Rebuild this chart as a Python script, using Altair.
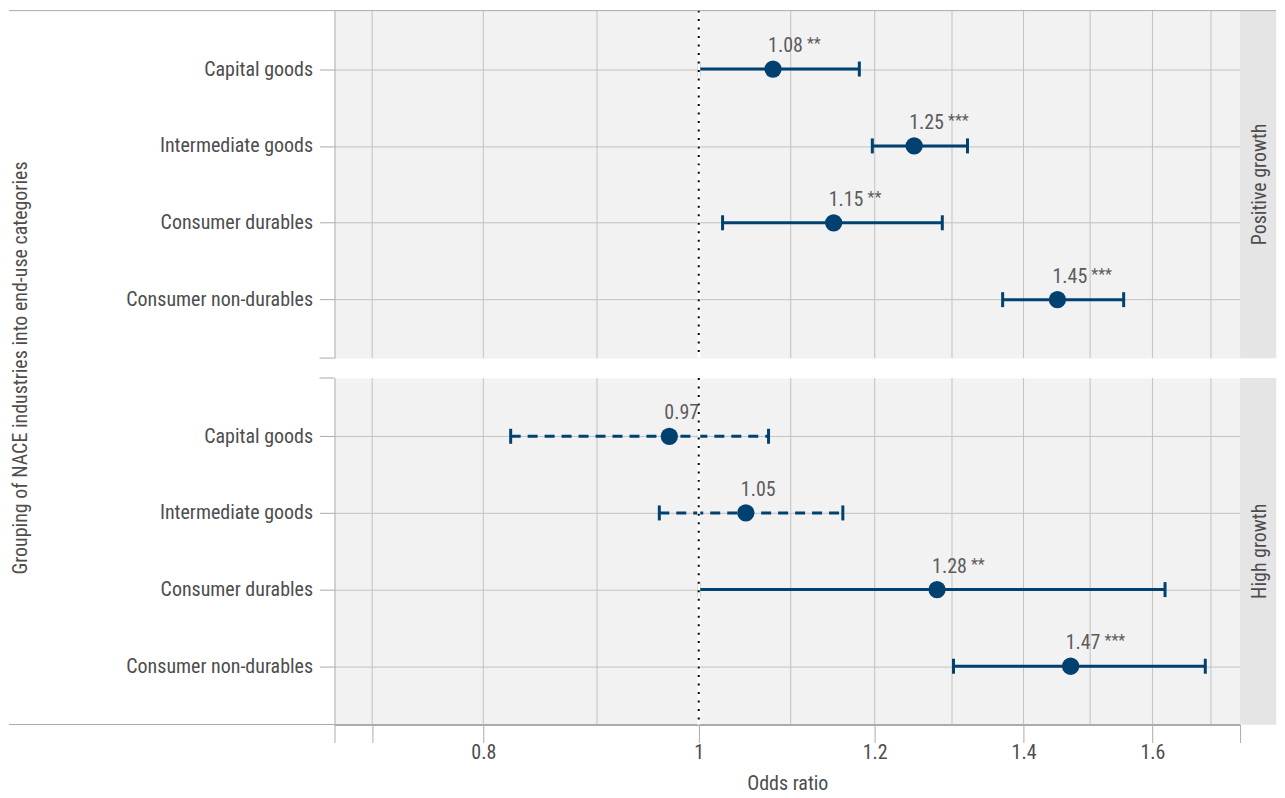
import altair as alt
import pandas as pd

FONT = "Liberation Sans Narrow, Roboto Condensed, Arial Narrow, DejaVu Sans Condensed, Roboto, sans-serif"

# ---------------- data ----------------
categories = ["Capital goods", "Intermediate goods", "Consumer durables", "Consumer non-durables"]
panel_names = ["Positive growth", "High growth"]

pos_or = [1.08, 1.25, 1.15, 1.45]
pos_lo = [1.00, 1.197, 1.025, 1.370]
pos_hi = [1.181, 1.321, 1.287, 1.553]
pos_stars = ["**", "***", "**", "***"]

high_or = [0.97, 1.05, 1.28, 1.47]
high_lo = [0.823, 0.960, 1.00, 1.302]
high_hi = [1.075, 1.161, 1.621, 1.690]
high_stars = ["", "", "**", "***"]

major_ticks = [0.8, 1.0, 1.2, 1.4, 1.6]
tick_labels = ["0.8", "1", "1.2", "1.4", "1.6"]
minor_grid = [0.713, 0.9, 1.1, 1.3, 1.5, 1.7]
x_domain = [0.6857, 1.752]
extra_ticks = [0.6857, 0.713, 1.752]
reference_value = [1.0]

# ---------------- styling ----------------
W, H_TOP, H_BOT, STRIP_W, GAP = 907, 348, 347, 36, 20
LEFT = 326
FS = 20
BLUE = "#00416f"
GRID = "#c2c2c2"
AXIS = "#ababab"
TXT = "#4d4d4d"
LBL = "#5c5c5c"
PANEL_BG = "#f2f2f2"
STRIP_BG = "#e5e5e5"

xs = alt.Scale(type="log", domain=x_domain, nice=False)
ys = alt.Scale(type="point", domain=categories, padding=0.76)

label_expr = " : ".join(
    [f"abs(datum.value - {v}) < 0.001 ? '{t}'" for v, t in zip(major_ticks, tick_labels)]
) + " : ''"


def x_axis(bottom):
    if not bottom:
        return None
    return alt.Axis(
        values=sorted(extra_ticks[:2] + major_ticks + extra_ticks[2:]),
        labelExpr=label_expr,
        grid=False,
        tickSize=18,
        tickColor=AXIS,
        tickWidth=1,
        domainColor=AXIS,
        domainWidth=2,
        labelFontSize=FS,
        labelColor=TXT,
        labelPadding=0,
        labelOverlap=False,
        labelFlush=False,
        title="Odds ratio",
        titleFontSize=FS,
        titleFontWeight="normal",
        titleColor=TXT,
        titlePadding=11,
    )


def y_axis(top):
    kw = dict(
        grid=True,
        gridColor=GRID,
        gridWidth=1,
        domain=True,
        domainColor=AXIS,
        domainWidth=1,
        tickSize=15,
        tickColor=AXIS,
        labelFontSize=FS,
        labelColor=TXT,
        labelPadding=7,
        labelLimit=0,
    )
    if top:
        kw.update(
            title="Grouping of NACE industries into end-use categories",
            titleFontSize=FS,
            titleFontWeight="normal",
            titleColor=TXT,
            titleAngle=270,
            titleAlign="center",
            titleBaseline="middle",
            titleX=-(LEFT - 12),
            titleY=(H_TOP + GAP + H_BOT) / 2,
        )
    return alt.Axis(**kw)


def panel(odds, lo, hi, stars, height, top, bottom):
    df = pd.DataFrame({
        "cat": categories,
        "or": odds,
        "lo": lo,
        "hi": hi,
        "stars": stars,
        "label": [f"{v:.2f}" for v in odds],
    })
    df["sig"] = df["stars"] != ""
    xa = x_axis(bottom)
    ya = y_axis(top)
    X = lambda f: alt.X(f, scale=xs, axis=xa, title="Odds ratio" if bottom else None)
    Y = alt.Y("cat:N", scale=ys, axis=ya, sort=categories,
              title="Grouping of NACE industries into end-use categories" if top else None)

    one = pd.DataFrame({"d": [0]})
    layers = []
    grid = alt.Chart(pd.DataFrame({"g": major_ticks + minor_grid})).mark_rule(
        color=GRID, strokeWidth=1
    ).encode(x=X("g:Q"))
    layers.append(grid)

    base = alt.Chart(df)
    solid = base.transform_filter("datum.sig").mark_rule(color=BLUE, strokeWidth=3).encode(
        x=X("lo:Q"), x2="hi:Q", y=Y)
    dashed = base.transform_filter("!datum.sig").mark_rule(
        color=BLUE, strokeWidth=3, strokeDash=[10, 7]).encode(x=X("lo:Q"), x2="hi:Q", y=Y)
    cap_lo = base.mark_tick(color=BLUE, thickness=3, size=15, opacity=1).encode(x=X("lo:Q"), y=Y)
    cap_hi = base.mark_tick(color=BLUE, thickness=3, size=15, opacity=1).encode(x=X("hi:Q"), y=Y)
    pts = base.mark_circle(color=BLUE, size=300, opacity=1).encode(x=X("or:Q"), y=Y)
    layers += [solid, dashed, cap_lo, cap_hi, pts]

    ref = pd.DataFrame({"r": reference_value})
    layers.append(alt.Chart(ref).mark_rule(color="white", strokeWidth=3).encode(x=X("r:Q")))
    layers.append(alt.Chart(ref).mark_rule(color="black", strokeWidth=2, strokeDash=[2, 6.5]).encode(x=X("r:Q")))

    num = base.mark_text(align="left", baseline="alphabetic", dx=-5, dy=-17,
                         fontSize=FS, color=LBL).encode(x=X("or:Q"), y=Y, text="label:N")
    st = base.mark_text(align="left", baseline="alphabetic", dx=34, dy=-20,
                        fontSize=16, color=LBL).encode(x=X("or:Q"), y=Y, text="stars:N")
    layers += [num, st]

    # decorations: outer lines and panel-end ticks
    if top:
        layers.append(alt.Chart(one).mark_rule(color=AXIS, strokeWidth=1).encode(
            x=alt.value(-LEFT), x2=alt.value(W), y=alt.value(0)))
        layers.append(alt.Chart(one).mark_rule(color=AXIS, strokeWidth=1).encode(
            x=alt.value(-15), x2=alt.value(0), y=alt.value(height)))
    if bottom:
        layers.append(alt.Chart(one).mark_rule(color=AXIS, strokeWidth=1).encode(
            x=alt.value(-LEFT), x2=alt.value(0), y=alt.value(height)))
        layers.append(alt.Chart(one).mark_rule(color=AXIS, strokeWidth=1).encode(
            x=alt.value(-15), x2=alt.value(0), y=alt.value(0)))

    return alt.layer(*layers).properties(width=W, height=height)


def strip(label, height, top):
    d = pd.DataFrame({"t": [label]})
    bg = alt.Chart(d).mark_rect(color=STRIP_BG).encode(
        x=alt.value(0), x2=alt.value(STRIP_W), y=alt.value(0), y2=alt.value(height))
    txt = alt.Chart(d).mark_text(angle=270, fontSize=FS, color=TXT, align="center",
                                 baseline="middle").encode(
        text="t:N", x=alt.value(STRIP_W / 2 + 2), y=alt.value(height / 2))
    layers = [bg, txt]
    if top:
        layers.append(alt.Chart(d).mark_rule(color=AXIS, strokeWidth=1).encode(
            x=alt.value(0), x2=alt.value(STRIP_W), y=alt.value(0)))
    return alt.layer(*layers).properties(width=STRIP_W, height=height)


chart = alt.concat(
    panel(pos_or, pos_lo, pos_hi, pos_stars, H_TOP, True, False),
    strip(panel_names[0], H_TOP, True),
    panel(high_or, high_lo, high_hi, high_stars, H_BOT, False, True),
    strip(panel_names[1], H_BOT, False),
    columns=2,
    spacing=alt.RowColnumber(row=GAP, column=0),
    bounds="flush",
).properties(padding=0).configure(font=FONT).configure_view(fill=PANEL_BG, stroke="transparent")

chart.save("out.html", embed_options={"renderer": "svg", "actions": False})
